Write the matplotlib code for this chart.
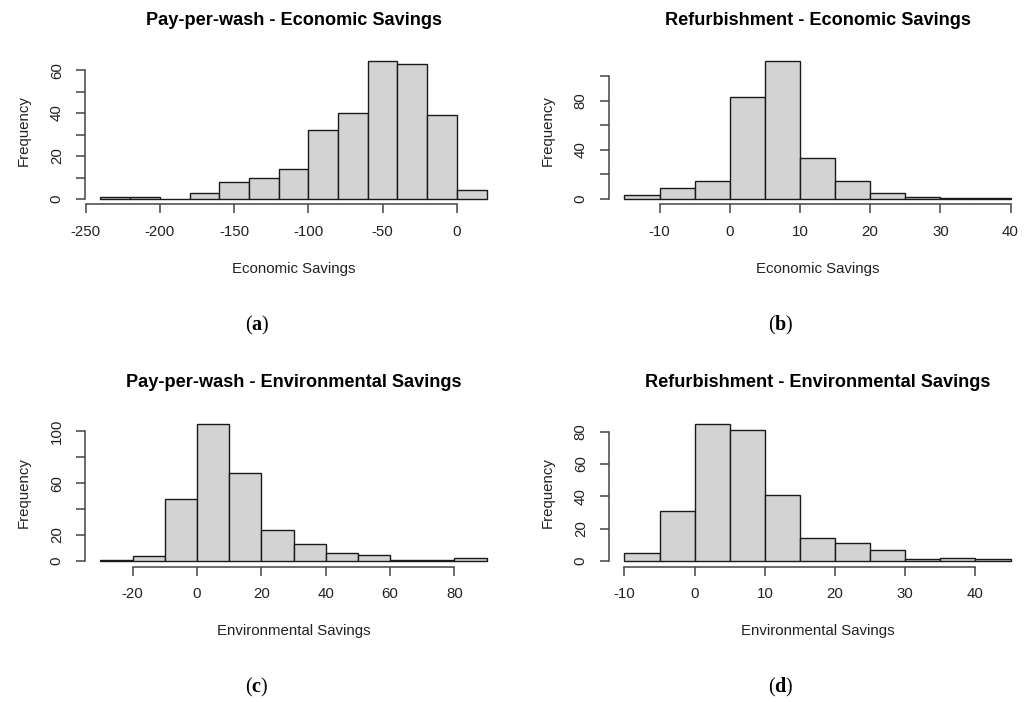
import matplotlib
matplotlib.use('Agg')
import matplotlib.pyplot as plt

plt.rcParams['font.family'] = ['Liberation Sans', 'DejaVu Sans']
plt.rcParams['axes.unicode_minus'] = False
plt.rcParams['mathtext.fontset'] = 'custom'
plt.rcParams['mathtext.rm'] = 'Liberation Serif'
plt.rcParams['mathtext.bf'] = 'Liberation Serif:bold'

# histogram counts (279 runs each)
ppw_econ_edges = [-240, -220, -200, -180, -160, -140, -120, -100, -80, -60, -40, -20, 0, 20]
ppw_econ_counts = [1, 1, 0, 3, 8, 10, 14, 32, 40, 64, 63, 39, 4]

ref_econ_edges = [-15, -10, -5, 0, 5, 10, 15, 20, 25, 30, 35, 40]
ref_econ_counts = [3, 9, 15, 83, 112, 33, 15, 5, 2, 1, 1]

ppw_env_edges = [-30, -20, -10, 0, 10, 20, 30, 40, 50, 60, 70, 80, 90]
ppw_env_counts = [1, 4, 48, 106, 68, 24, 13, 6, 5, 1, 1, 2]

ref_env_edges = [-10, -5, 0, 5, 10, 15, 20, 25, 30, 35, 40, 45]
ref_env_counts = [5, 31, 85, 81, 41, 14, 11, 7, 1, 2, 1]

# axis ticks (R hides labels that would overlap)
ppw_econ_xticks = [-250, -200, -150, -100, -50, 0]
ppw_econ_yticks = [0, 10, 20, 30, 40, 50, 60]
ppw_econ_ylabels = ['0', '', '20', '', '40', '', '60']

ref_econ_xticks = [-10, 0, 10, 20, 30, 40]
ref_econ_yticks = [0, 20, 40, 60, 80, 100]
ref_econ_ylabels = ['0', '', '40', '', '80', '']

ppw_env_xticks = [-20, 0, 20, 40, 60, 80]
ppw_env_yticks = [0, 20, 40, 60, 80, 100]
ppw_env_ylabels = ['0', '20', '', '60', '', '100']

ref_env_xticks = [-10, 0, 10, 20, 30, 40]
ref_env_yticks = [0, 20, 40, 60, 80]
ref_env_ylabels = ['0', '20', '40', '60', '80']

titles = ['Pay-per-wash - Economic Savings', 'Refurbishment - Economic Savings',
          'Pay-per-wash - Environmental Savings', 'Refurbishment - Environmental Savings']
xlabels = ['Economic Savings', 'Economic Savings', 'Environmental Savings', 'Environmental Savings']
panel_tags = ['a', 'b', 'c', 'd']

W, H = 1031, 702
AXCOL = '#444444'
TXTCOL = '#222222'


def r_hist(ax, edges, counts, xticks, yticks, ylabels, title, xlabel):
    widths = [edges[i+1] - edges[i] for i in range(len(counts))]
    ax.bar(edges[:-1], counts, width=widths, align='edge',
           color='#D3D3D3', edgecolor='#1a1a1a', linewidth=1.0)

    # R style 4% padding on both axes
    xr = edges[-1] - edges[0]
    yr = max(counts)
    ax.set_xlim(edges[0] - 0.04*xr, edges[-1] + 0.04*xr)
    ax.set_ylim(-0.04*yr, yr*1.04)

    for s in ['top', 'right']:
        ax.spines[s].set_visible(False)
    ax.spines['left'].set_bounds(yticks[0], yticks[-1])
    ax.spines['bottom'].set_bounds(xticks[0], xticks[-1])
    for s in ['left', 'bottom']:
        ax.spines[s].set_color(AXCOL)
        ax.spines[s].set_linewidth(1.1)

    ax.set_xticks(xticks)
    ax.set_xticklabels([str(t) for t in xticks])
    ax.set_yticks(yticks)
    ax.set_yticklabels(ylabels, rotation=90, va='center')
    ax.tick_params(direction='out', length=6.3, width=1.1, color=AXCOL,
                   labelsize=10.8, labelcolor=TXTCOL)
    ax.tick_params(axis='x', pad=8.5)
    ax.tick_params(axis='y', pad=9)

    ax.text(0.5, 1.242, title, transform=ax.transAxes, ha='center', va='center',
            fontsize=13.1, fontweight='bold', color='black')
    ax.set_xlabel(xlabel, fontsize=10.8, color=TXTCOL, va='center')
    ax.xaxis.set_label_coords(0.5, -0.435)
    ax.set_ylabel('Frequency', fontsize=10.8, color=TXTCOL, va='center')
    ax.yaxis.set_label_coords(-0.146, 0.5)


fig = plt.figure(figsize=(W/100, H/100), dpi=100)

# plot regions in pixels: (left, top, width, height)
left_x, right_x = 85, 609
top_y, bot_y = 56, 418
pw, ph = 417, 148.5

panels = [
    (left_x, top_y, ppw_econ_edges, ppw_econ_counts, ppw_econ_xticks, ppw_econ_yticks, ppw_econ_ylabels),
    (right_x, top_y, ref_econ_edges, ref_econ_counts, ref_econ_xticks, ref_econ_yticks, ref_econ_ylabels),
    (left_x, bot_y, ppw_env_edges, ppw_env_counts, ppw_env_xticks, ppw_env_yticks, ppw_env_ylabels),
    (right_x, bot_y, ref_env_edges, ref_env_counts, ref_env_xticks, ref_env_yticks, ref_env_ylabels),
]

for i, (px, py, edges, counts, xt, yt, yl) in enumerate(panels):
    ax = fig.add_axes([px/W, 1 - (py + ph)/H, pw/W, ph/H])
    r_hist(ax, edges, counts, xt, yt, yl, titles[i], xlabels[i])
    # subfigure tag, e.g. (a)
    fig.text((px + 172)/W, 1 - (py + 269)/H, r'$\mathrm{(}\mathbf{%s}\mathrm{)}$' % panel_tags[i],
             ha='center', va='center', fontsize=14.5, color='black')

fig.savefig('out.png', dpi=100)
